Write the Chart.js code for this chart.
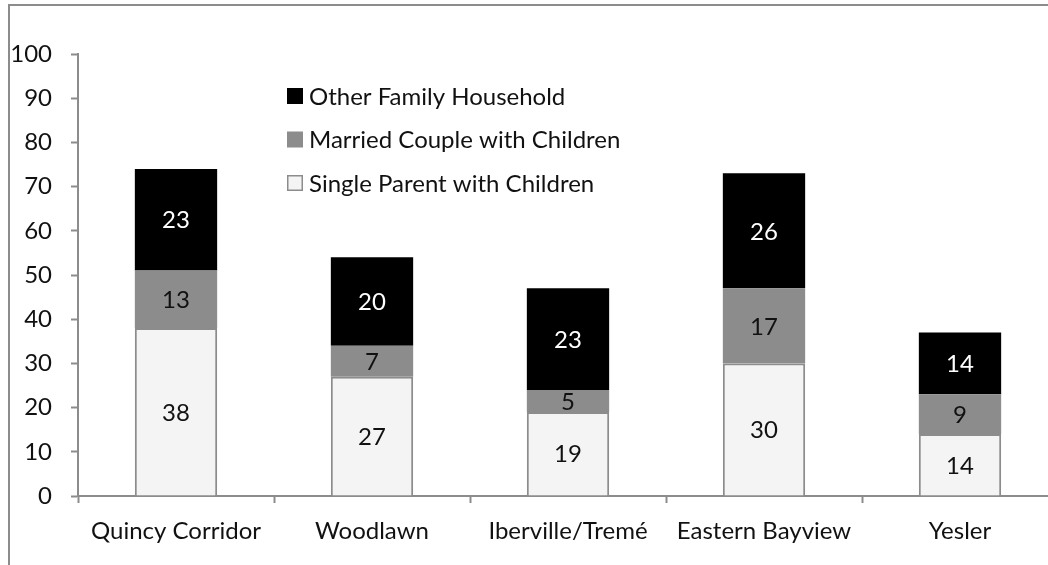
<!DOCTYPE html>
<html>
<head>
<meta charset="utf-8">
<script src="https://cdn.jsdelivr.net/npm/chart.js@4.4.1/dist/chart.umd.min.js"></script>
<style>
    html, body { margin: 0; padding: 0; background: #fff; overflow: hidden; width: 1048px; height: 565px; }
    #frame { position: absolute; left: 8px; top: 4px; width: 1100px; height: 600px;
             border-top: 2px solid #8c8c8c; border-left: 2px solid #8c8c8c; }
    #chart { position: absolute; left: 0; top: 0; }
</style>
</head>
<body>
<div id="frame"></div>
<canvas id="chart" width="1080" height="565"></canvas>
<script>
const neighborhoods = ['Quincy Corridor', 'Woodlawn', 'Iberville/Tremé', 'Eastern Bayview', 'Yesler'];
const singleParent = [38, 27, 19, 30, 14];
const marriedCouple = [13, 7, 5, 17, 9];
const otherFamily = [23, 20, 23, 26, 14];
const yTicks = [0, 10, 20, 30, 40, 50, 60, 70, 80, 90, 100];

const GRAY = '#8c8c8c';
const INK = '#111111';
const FONT = 'Lato, "Open Sans", sans-serif';
const SIZE = 24;

// numbers in the middle of each stacked segment
const segmentLabels = {
    id: 'segmentLabels',
    afterDatasetsDraw(chart) {
        const ctx = chart.ctx;
        ctx.save();
        ctx.font = SIZE + 'px ' + FONT;
        ctx.textAlign = 'center';
        ctx.textBaseline = 'middle';
        chart.data.datasets.forEach((ds, i) => {
            chart.getDatasetMeta(i).data.forEach((bar, j) => {
                const mid = (bar.y + bar.base) / 2;
                ctx.fillStyle = ds.labelColor;
                ctx.fillText(String(ds.data[j]), bar.x, mid + 1);
            });
        });
        ctx.restore();
    }
};

// legend box inside the plot, top series first
const insetLegend = {
    id: 'insetLegend',
    afterDraw(chart) {
        const ctx = chart.ctx;
        const x = 287, y0 = 96, step = 43.5, box = 16;
        ctx.save();
        ctx.font = SIZE + 'px ' + FONT;
        ctx.textBaseline = 'middle';
        const sets = chart.data.datasets.slice().reverse();
        sets.forEach((ds, k) => {
            const y = y0 + k * step;
            ctx.fillStyle = ds.backgroundColor;
            ctx.fillRect(x, y - box / 2, box, box);
            if (ds.borderWidth) {
                ctx.strokeStyle = ds.borderColor;
                ctx.lineWidth = 1.5;
                ctx.strokeRect(x + 0.75, y - box / 2 + 0.75, box - 1.5, box - 1.5);
            }
            ctx.fillStyle = INK;
            ctx.fillText(ds.label, x + 22, y + 1);
        });
        ctx.restore();
    }
};

new Chart(document.getElementById('chart'), {
    type: 'bar',
    data: {
        labels: neighborhoods,
        datasets: [{
            label: 'Single Parent with Children',
            data: singleParent,
            backgroundColor: '#f4f4f4',
            borderColor: GRAY,
            borderWidth: 2,
            borderSkipped: 'bottom',
            labelColor: INK
        }, {
            label: 'Married Couple with Children',
            data: marriedCouple,
            backgroundColor: GRAY,
            borderWidth: 0,
            labelColor: INK
        }, {
            label: 'Other Family Household',
            data: otherFamily,
            backgroundColor: '#000000',
            borderWidth: 0,
            labelColor: '#ffffff'
        }]
    },
    options: {
        responsive: false,
        animation: false,
        devicePixelRatio: 1,
        layout: { padding: { top: 54, right: 22, bottom: 0, left: 0 } },
        datasets: { bar: { categoryPercentage: 0.42, barPercentage: 1 } },
        scales: {
            x: {
                stacked: true,
                border: { color: GRAY, width: 2 },
                grid: { offset: true, drawOnChartArea: false, tickLength: 7, tickColor: GRAY, tickWidth: 2 },
                ticks: { color: INK, font: { family: FONT, size: SIZE }, padding: 14, maxRotation: 0 },
                afterFit(scale) { scale.height = 69; }
            },
            y: {
                stacked: true,
                min: 0,
                max: 100,
                afterBuildTicks(scale) { scale.ticks = yTicks.map(v => ({ value: v })); },
                border: { color: GRAY, width: 2 },
                grid: { drawOnChartArea: false, tickLength: 7, tickColor: GRAY, tickWidth: 2 },
                ticks: { color: INK, font: { family: FONT, size: SIZE }, padding: 19 },
                afterFit(scale) { scale.width = 78; }
            }
        },
        plugins: {
            legend: { display: false },
            tooltip: { enabled: false }
        }
    },
    plugins: [segmentLabels, insetLegend]
});
</script>
</body>
</html>
